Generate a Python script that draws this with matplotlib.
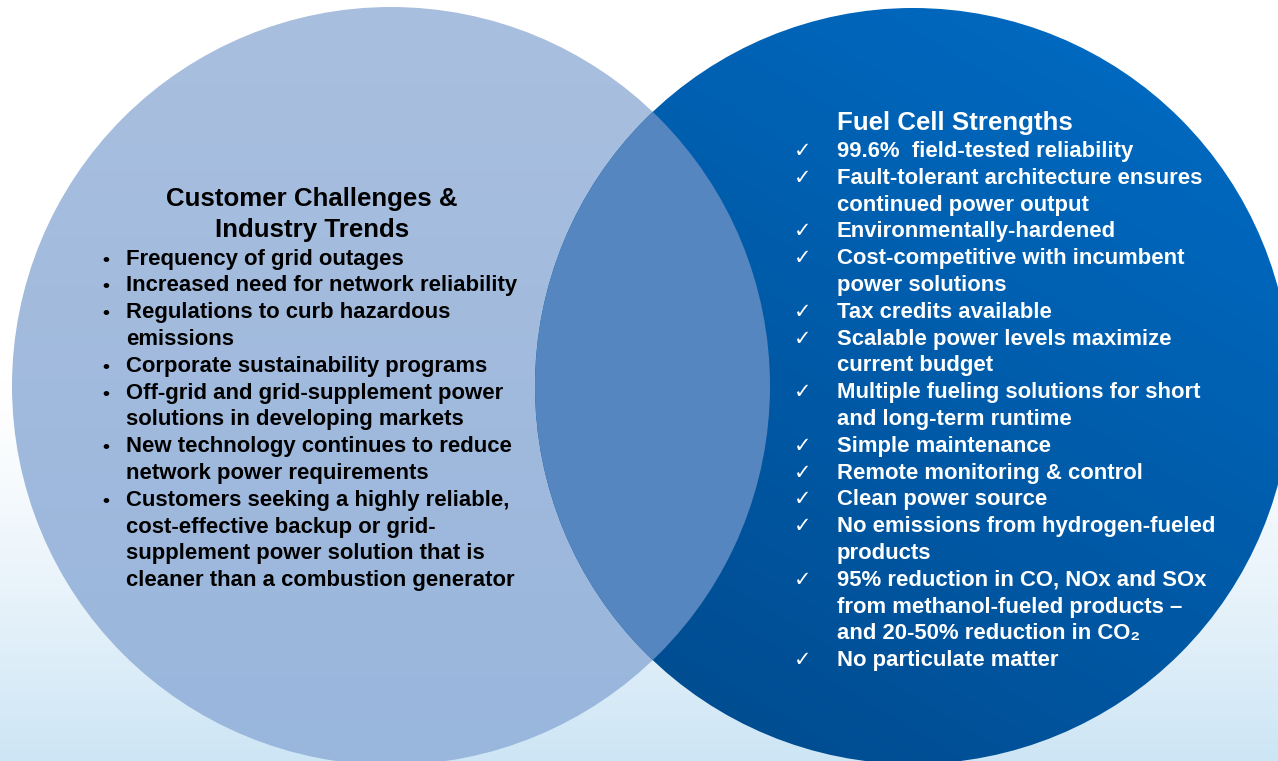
import numpy as np
import matplotlib
matplotlib.use("Agg")
import matplotlib.pyplot as plt
from matplotlib.patches import Circle

# --------------------------------------------------------
# 1. Data
# --------------------------------------------------------
left_title = ["Customer Challenges &", "Industry Trends"]
left_items = [
    "Frequency of grid outages",
    "Increased need for network reliability",
    "Regulations to curb hazardous\nemissions",
    "Corporate sustainability programs",
    "Off-grid and grid-supplement power\nsolutions in developing markets",
    "New technology continues to reduce\nnetwork power requirements",
    "Customers seeking a highly reliable,\ncost-effective backup or grid-\n"
    "supplement power solution that is\ncleaner than a combustion generator",
]

right_title = "Fuel Cell Strengths"
right_items = [
    "99.6%  field-tested reliability",
    "Fault-tolerant architecture ensures\ncontinued power output",
    "Environmentally-hardened",
    "Cost-competitive with incumbent\npower solutions",
    "Tax credits available",
    "Scalable power levels maximize\ncurrent budget",
    "Multiple fueling solutions for short\nand long-term runtime",
    "Simple maintenance",
    "Remote monitoring & control",
    "Clean power source",
    "No emissions from hydrogen-fueled\nproducts",
    "95% reduction in CO, NOx and SOx\nfrom methanol-fueled products \u2013\n"
    "and 20-50% reduction in CO\u2082",
    "No particulate matter",
]

# --------------------------------------------------------
# 2. Canvas (pixel coordinates, y downwards)
# --------------------------------------------------------
W, H = 1278, 761
fig = plt.figure(figsize=(W / 100, H / 100), dpi=100)
ax = fig.add_axes([0, 0, 1, 1])
ax.set_axis_off()

FONT = ["Liberation Sans", "DejaVu Sans"]

# background: white fading to pale blue at the bottom
t = np.clip((np.arange(H) - 380) / (H - 380), 0, 1) ** 1.3
top_c = np.array([1.0, 1.0, 1.0])
bot_c = np.array([205, 229, 245]) / 255
bg = top_c[None, :] * (1 - t[:, None]) + bot_c[None, :] * t[:, None]
ax.imshow(bg[:, None, :], extent=(0, W, H, 0), aspect="auto", zorder=0)

# circle geometry
lc, lr = (391, 386), 379
rc, rr = (913, 386), 378


def clipped_gradient(arr, circ, z):
    patch = Circle(circ[0], circ[1], facecolor="none", edgecolor="none",
                   transform=ax.transData)
    ax.add_patch(patch)
    im = ax.imshow(arr, extent=(0, W, H, 0), aspect="auto", zorder=z,
                   interpolation="bilinear")
    im.set_clip_path(patch)
    return patch


yy, xx = np.mgrid[0:H, 0:W]

# left circle: light blue, slightly deeper towards the bottom
s = np.clip(yy / H, 0, 1)[..., None]
c1 = np.array([169, 191, 223]) / 255
c2 = np.array([153, 182, 220]) / 255
left_arr = c1 * (1 - s) + c2 * s
clipped_gradient(left_arr, (lc, lr), 1)

# right circle: strong blue, darker to the lower left
d = ((rc[0] + rr - xx) * 0.6 + yy) / (rr * 2 * 1.6)
d = np.clip(d, 0, 1)[..., None]
c1 = np.array([0, 110, 200]) / 255
c2 = np.array([0, 72, 138]) / 255
right_arr = c1 * (1 - d) + c2 * d
rpatch = clipped_gradient(right_arr, (rc, rr), 2)

# overlap lens
lens = Circle(lc, lr, facecolor="#5686bf", edgecolor="none", zorder=3)
ax.add_patch(lens)
lens.set_clip_path(rpatch)

# --------------------------------------------------------
# 3. Text
# --------------------------------------------------------
step = 26.8
base = 7
body = 15.9
head = 18.6

ax.text(312, 198 + 8, left_title[0], ha="center", va="baseline",
        fontsize=head, fontweight="bold", family=FONT, color="black", zorder=5)
ax.text(312, 229 + 8, left_title[1], ha="center", va="baseline",
        fontsize=head, fontweight="bold", family=FONT, color="black", zorder=5)

y = 257.5
for item in left_items:
    ax.text(106, y + base, "\u2022", ha="center", va="baseline",
            fontsize=14, fontweight="bold", family=FONT, color="black", zorder=5)
    for line in item.split("\n"):
        ax.text(126, y + base, line, ha="left", va="baseline",
                fontsize=body, fontweight="bold", family=FONT, color="black",
                zorder=5)
        y += step

ax.text(837, 122 + 8, right_title, ha="left", va="baseline",
        fontsize=head, fontweight="bold", family=FONT, color="white", zorder=5)

y = 150
for item in right_items:
    ax.text(803, y + base, "\u2713", ha="center", va="baseline",
            fontsize=15, family=["DejaVu Sans"], color="white", zorder=5)
    for line in item.split("\n"):
        ax.text(837, y + base, line, ha="left", va="baseline",
                fontsize=body, fontweight="bold", family=FONT, color="white",
                zorder=5)
        y += step

ax.set_xlim(0, W)
ax.set_ylim(H, 0)

# --------------------------------------------------------
# 4. Save
# --------------------------------------------------------
fig.savefig("out.png", dpi=100)
